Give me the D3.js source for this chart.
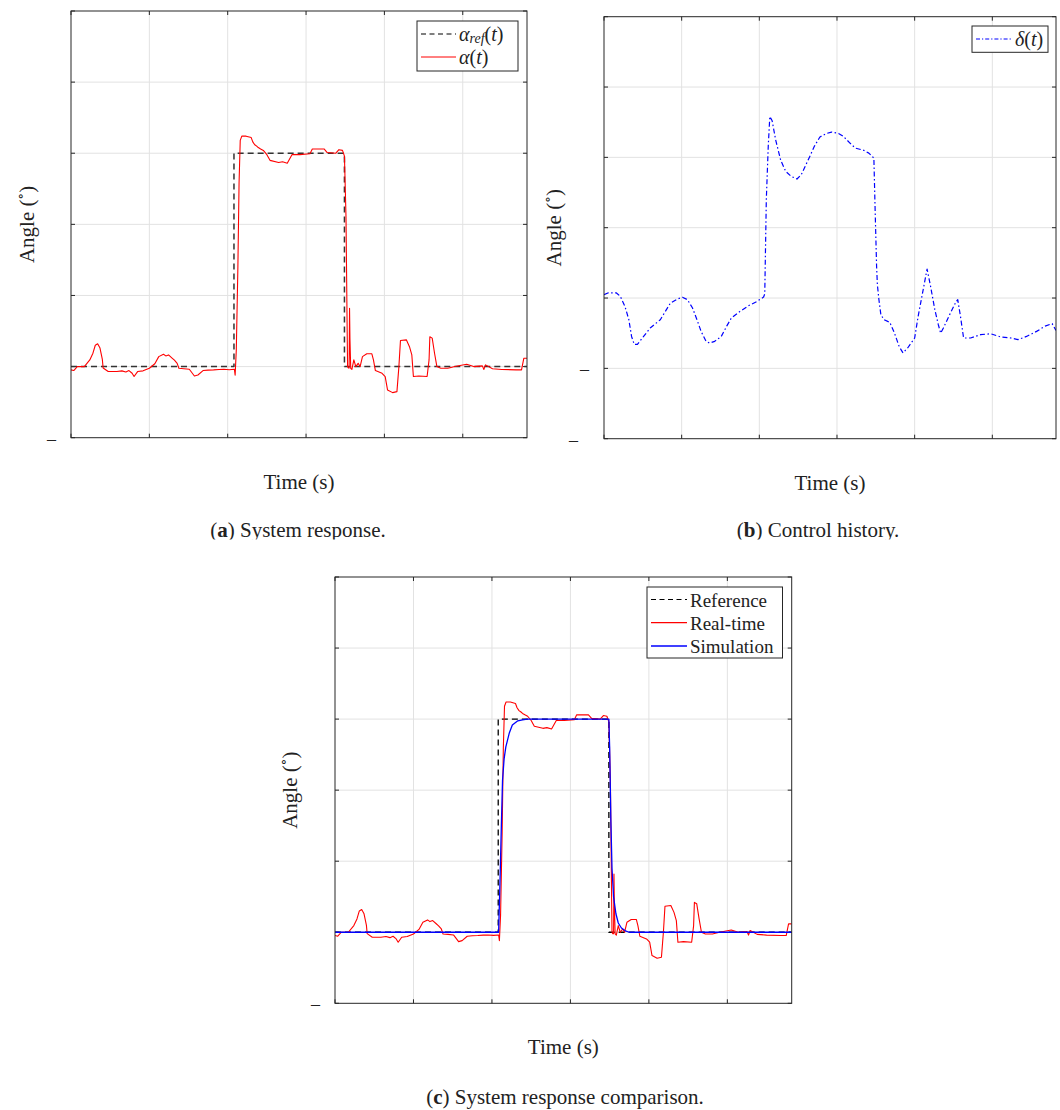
<!DOCTYPE html>
<html>
<head>
<meta charset="utf-8">
<script src="https://cdn.jsdelivr.net/npm/d3@7"></script>
<style>
	body { margin: 0; background: #fff; }
	svg text { font-family: "Liberation Serif", "DejaVu Serif", serif; fill: #222; }
</style>
</head>
<body>
<div id="fig"></div>
<script>
// DATA
// -------
const xDomain = [0, 58.2];
const xTicks = [0, 10, 20, 30, 40, 50];
const yTicksResponse = [-5, 0, 5, 10, 15, 20, 25];
const yTicksControl = [-10, -5, 0, 5, 10, 15, 20];

// reference step [t, deg]
const reference = [[0, 0], [20.8, 0], [20.8, 15], [34.9, 15], [34.9, 0], [58.2, 0]];

// measured angle (real-time) [t, deg]
const realTime = [
	[0, -0.23], [0.35, -0.28], [0.8, 0], [1.7, 0], [2.4, 0.47], [2.8, 0.94], [3.1, 1.5], [3.4, 1.6],
	[3.7, 1.3], [4.0, 0.5], [4.1, -0.1], [4.75, -0.35], [5.85, -0.35], [6.5, -0.3], [7.0, -0.38],
	[7.4, -0.28], [7.8, -0.47], [8.05, -0.7], [8.5, -0.35], [9.2, -0.3], [10.0, -0.12], [10.7, 0.2],
	[11.2, 0.7], [11.8, 0.87], [12.1, 0.75], [12.45, 0.82], [12.9, 0.6], [13.2, 0.45], [13.55, 0.23],
	[13.77, -0.12], [14.4, -0.15], [15.1, -0.19], [15.75, -0.66], [16.2, -0.59], [16.85, -0.28],
	[17.5, -0.25], [18.2, -0.23], [18.9, -0.2], [19.5, -0.19], [20.2, -0.22], [20.85, -0.19],
	[20.95, -0.6], [21.1, 1.2], [21.3, 7.0], [21.45, 12.9], [21.6, 15.9], [21.8, 16.2], [22.35, 16.2],
	[23.0, 16.1], [23.2, 15.8], [23.45, 15.6], [23.7, 15.5], [23.9, 15.4], [24.2, 15.3], [24.55, 15.2],
	[25.0, 14.9], [25.4, 14.5], [26.5, 14.35], [27.0, 14.4], [27.6, 14.3], [28.2, 14.9], [29.2, 14.9],
	[30.5, 14.96], [30.8, 15.3], [32.3, 15.3], [32.7, 15.05], [33.8, 15.0], [34.2, 15.25], [34.65, 15.2],
	[34.9, 14.8], [35.1, 10.5], [35.25, 2.4], [35.3, 0], [35.4, -0.1], [35.5, -0.1], [35.55, 4.1],
	[35.6, 2.0], [35.7, -0.12], [35.85, -0.2], [36.1, 0.47], [36.35, 0], [36.65, 0.23], [36.9, 0],
	[37.2, 0.7], [37.75, 0.9], [38.4, 0.9], [38.6, 0.47], [38.85, -0.28], [39.7, -0.47], [40.1, -0.7],
	[40.4, -1.64], [41.05, -1.83], [41.6, -1.76], [41.85, 0], [42.05, 1.83], [42.8, 1.88], [43.2, 1.4],
	[43.5, 0.82], [43.7, -0.7], [44.4, -0.66], [45.45, -0.7], [45.7, 0.47], [45.8, 2.1], [46.1, 2.0],
	[46.4, 0.94], [46.7, 0], [47.2, -0.12], [48.1, -0.12], [49.0, 0], [50.5, 0.16], [51.4, 0],
	[52.5, 0.05], [52.7, -0.2], [52.9, 0.12], [53.8, -0.15], [55.0, -0.2], [56.8, -0.23], [57.5, -0.23],
	[57.8, 0.59], [58.2, 0.59]
];

// control deflection [t, deg]
const control = [
	[0, 0.24], [0.5, 0.36], [1.6, 0.36], [2.1, 0.12], [2.7, -0.6], [3.2, -1.54], [3.55, -2.73], [3.9, -3.3],
	[4.3, -3.3], [5.1, -2.73], [5.95, -2.13], [7.25, -1.54], [7.9, -0.95], [8.55, -0.36], [9.45, -0.07],
	[10.1, 0.05], [10.75, -0.12], [11.4, -0.71], [12.05, -1.66], [12.5, -2.37], [13.15, -3.08], [13.6, -3.2],
	[14.25, -3.08], [15.1, -2.73], [15.8, -2.0], [16.4, -1.42], [17.5, -0.95], [18.6, -0.55], [19.7, -0.24],
	[20.55, 0.07], [20.7, 0.3], [20.9, 7.0], [21.15, 10.8], [21.35, 12.9], [21.65, 12.6], [22.1, 11.25],
	[22.75, 9.8], [23.4, 9.0], [24.1, 8.65], [24.85, 8.46], [25.4, 8.77], [26.5, 10.07], [27.1, 10.8],
	[27.8, 11.45], [28.65, 11.7], [29.3, 11.8], [30.2, 11.7], [30.8, 11.5], [31.7, 11.0], [32.35, 10.66],
	[33.45, 10.5], [34.1, 10.3], [34.75, 9.95], [34.9, 6.5], [35.1, 2.25], [35.2, 0.95], [35.4, -0.12],
	[35.65, -1.18], [36.05, -1.54], [36.8, -1.73], [37.4, -2.49], [38.0, -3.44], [38.5, -3.9], [39.1, -3.55],
	[40.0, -2.84], [40.45, -1.3], [41.1, 0.6], [41.6, 2.06], [42.05, 0.83], [42.6, -0.83], [43.05, -1.9],
	[43.35, -2.5], [43.7, -2.13], [44.6, -1.07], [45.35, -0.24], [45.55, -0.12], [45.9, -1.3], [46.3, -2.84],
	[47.2, -2.84], [48.5, -2.6], [49.8, -2.54], [51.1, -2.77], [52.4, -2.84], [53.3, -2.96], [54.4, -2.73],
	[55.7, -2.37], [56.8, -2.0], [57.7, -1.82], [58.2, -2.3]
];

// simulated angle [t, deg]
const simulation = [
	[0, 0], [20.85, 0], [21.0, 3.0], [21.2, 7.5], [21.35, 10.7], [21.55, 12.2], [21.77, 13.05], [22.2, 14.0],
	[22.6, 14.58], [23.3, 14.88], [23.9, 14.95], [24.5, 15], [34.9, 15], [35.0, 13], [35.15, 8], [35.3, 4.5],
	[35.5, 2.5], [35.8, 1.3], [36.1, 0.65], [36.5, 0.3], [37.0, 0.1], [37.5, 0], [58.2, 0]
];

const svg = d3.select("#fig").append("svg").attr("width", 1060).attr("height", 1110);
const defs = svg.append("defs");

// draws one axes box with grid, ticks, labels, lines and legend
const drawPanel = (p) => {
	const x = d3.scaleLinear().domain(xDomain).range([p.left, p.right]);
	const y = d3.scaleLinear().domain(p.yDomain).range([p.bottom, p.top]);
	const g = svg.append("g");

	// grid
	g.selectAll(".vgrid")
		.data(xTicks.filter((t) => t > xDomain[0]))
		.join("line")
		.attr("x1", (d) => x(d)).attr("x2", (d) => x(d))
		.attr("y1", p.top).attr("y2", p.bottom)
		.attr("stroke", "#e2e2e2").attr("stroke-width", 1);
	g.selectAll(".hgrid")
		.data(p.yTicks.filter((t) => t > p.yDomain[0] && t < p.yDomain[1]))
		.join("line")
		.attr("x1", p.left).attr("x2", p.right)
		.attr("y1", (d) => y(d)).attr("y2", (d) => y(d))
		.attr("stroke", "#e2e2e2").attr("stroke-width", 1);

	// inward ticks on all four sides
	const tl = 4;
	xTicks.forEach((t) => {
		g.append("line").attr("x1", x(t)).attr("x2", x(t)).attr("y1", p.bottom).attr("y2", p.bottom - tl)
			.attr("stroke", "#262626");
		g.append("line").attr("x1", x(t)).attr("x2", x(t)).attr("y1", p.top).attr("y2", p.top + tl)
			.attr("stroke", "#262626");
	});
	p.yTicks.forEach((t) => {
		g.append("line").attr("x1", p.left).attr("x2", p.left + tl).attr("y1", y(t)).attr("y2", y(t))
			.attr("stroke", "#262626");
		g.append("line").attr("x1", p.right).attr("x2", p.right - tl).attr("y1", y(t)).attr("y2", y(t))
			.attr("stroke", "#262626");
	});

	// tick labels: only the minus signs survive in the source
	g.selectAll(".ylab")
		.data(p.yTicks.filter((t) => t < 0))
		.join("text")
		.attr("x", (d) => p.left - 15 - (String(Math.abs(d)).length - 1) * 11)
		.attr("y", (d) => y(d) + 1)
		.attr("text-anchor", "end")
		.attr("dominant-baseline", "central")
		.style("font-size", "18px")
		.text("–");

	// lines
	const clipId = "clip-" + p.id;
	defs.append("clipPath").attr("id", clipId).append("rect")
		.attr("x", p.left).attr("y", p.top).attr("width", p.right - p.left).attr("height", p.bottom - p.top);
	const line = d3.line().x((d) => x(d[0])).y((d) => y(d[1]));
	const plots = g.append("g").attr("clip-path", `url(#${clipId})`);
	p.series.forEach((s) => {
		plots.append("path")
			.attr("d", line(s.data))
			.attr("fill", "none")
			.attr("stroke", s.color)
			.attr("stroke-width", s.width)
			.attr("stroke-dasharray", s.dash || null)
			.attr("stroke-linejoin", "round");
	});

	// box
	g.append("rect")
		.attr("x", p.left).attr("y", p.top)
		.attr("width", p.right - p.left).attr("height", p.bottom - p.top)
		.attr("fill", "none").attr("stroke", "#262626").attr("stroke-width", 1);

	// axis labels
	g.append("text")
		.attr("x", (p.left + p.right) / 2).attr("y", p.bottom + 44)
		.attr("text-anchor", "middle").attr("dominant-baseline", "central")
		.style("font-size", "21px")
		.text("Time (s)");
	const yl = g.append("text")
		.attr("transform", `translate(${p.left - p.ylabelOffset},${(p.top + p.bottom) / 2}) rotate(-90)`)
		.attr("text-anchor", "middle").attr("dominant-baseline", "central")
		.style("font-size", "21px");
	yl.append("tspan").text("Angle (");
	yl.append("tspan").text("∘").attr("dy", -7).style("font-size", "14px");
	yl.append("tspan").text(")").attr("dy", 7);

	// legend
	const lg = p.legend;
	g.append("rect")
		.attr("x", lg.x).attr("y", lg.y).attr("width", lg.w).attr("height", lg.h)
		.attr("fill", "#fff").attr("stroke", "#262626").attr("stroke-width", 1);
	lg.items.forEach((it, i) => {
		const cy = lg.y + lg.first + i * lg.step;
		g.append("line")
			.attr("x1", lg.x + 4).attr("x2", lg.x + 4 + lg.sample)
			.attr("y1", cy).attr("y2", cy)
			.attr("stroke", it.color).attr("stroke-width", it.width)
			.attr("stroke-dasharray", it.dash || null);
		const t = g.append("text")
			.attr("x", lg.x + 7 + lg.sample).attr("y", cy)
			.attr("dominant-baseline", "central")
			.style("font-size", lg.size + "px");
		let shift = 0;
		it.label.forEach((seg) => {
			const ts = t.append("tspan").text(seg.t);
			if (seg.i) ts.style("font-style", "italic");
			if (seg.sub) {
				ts.attr("dy", 4).style("font-size", Math.round(lg.size * 0.72) + "px");
				shift = 4;
			} else if (shift) {
				ts.attr("dy", -shift);
				shift = 0;
			}
		});
	});
};

const alphaRefLabel = [{ t: "α", i: true }, { t: "ref", i: true, sub: true }, { t: "(" }, { t: "t", i: true }, { t: ")" }];
const alphaLabel = [{ t: "α", i: true }, { t: "(" }, { t: "t", i: true }, { t: ")" }];
const deltaLabel = [{ t: "δ", i: true }, { t: "(" }, { t: "t", i: true }, { t: ")" }];

drawPanel({
	id: "a", left: 71, right: 527, top: 11, bottom: 437.7,
	yDomain: [-5, 25], yTicks: yTicksResponse, ylabelOffset: 44,
	series: [
		{ data: reference, color: "#333", width: 1.5, dash: "6,4" },
		{ data: realTime, color: "#ff0000", width: 1.1 }
	],
	legend: {
		x: 417, y: 21, w: 101, h: 50, first: 13, step: 23, sample: 35, size: 20,
		items: [
			{ label: alphaRefLabel, color: "#000", width: 1.2, dash: "5,3.5" },
			{ label: alphaLabel, color: "#ff0000", width: 1 }
		]
	}
});

drawPanel({
	id: "b", left: 604, right: 1056, top: 16.7, bottom: 438.7,
	yDomain: [-10, 20], yTicks: yTicksControl, ylabelOffset: 50,
	series: [
		{ data: control, color: "#0000ff", width: 1.2, dash: "5,2.5,1.5,2.5" }
	],
	legend: {
		x: 972, y: 26, w: 76, h: 26.3, first: 13, step: 23, sample: 36, size: 20,
		items: [
			{ label: deltaLabel, color: "#0000ff", width: 1.2, dash: "4,2,1.2,2" }
		]
	}
});

drawPanel({
	id: "c", left: 335, right: 791.7, top: 577, bottom: 1003.3,
	yDomain: [-5, 25], yTicks: yTicksResponse, ylabelOffset: 45,
	series: [
		{ data: reference, color: "#000", width: 1.3, dash: "6,4" },
		{ data: realTime, color: "#ff0000", width: 1.1 },
		{ data: simulation, color: "#0000ff", width: 1.3 }
	],
	legend: {
		x: 647, y: 587, w: 135.5, h: 71, first: 12.5, step: 23.2, sample: 36, size: 19,
		items: [
			{ label: [{ t: "Reference" }], color: "#000", width: 1.2, dash: "5,3.5" },
			{ label: [{ t: "Real-time" }], color: "#ff0000", width: 1.2 },
			{ label: [{ t: "Simulation" }], color: "#0000ff", width: 1.5 }
		]
	}
});

// sub-captions
defs.append("clipPath").attr("id", "clip-caption").append("rect")
	.attr("x", 0).attr("y", 500).attr("width", 1060).attr("height", 39.5);
const captions = [
	{ tag: "a", text: " System response.", x: 298, y: 537, clip: true },
	{ tag: "b", text: " Control history.", x: 818, y: 537, clip: true },
	{ tag: "c", text: " System response comparison.", x: 565, y: 1104, clip: false }
];
captions.forEach((c) => {
	const t = svg.append("text")
		.attr("x", c.x).attr("y", c.y)
		.attr("text-anchor", "middle")
		.attr("clip-path", c.clip ? "url(#clip-caption)" : null)
		.style("font-size", "21px");
	t.append("tspan").text("(");
	t.append("tspan").text(c.tag).style("font-weight", "bold");
	t.append("tspan").text(")" + c.text);
});
</script>
</body>
</html>
